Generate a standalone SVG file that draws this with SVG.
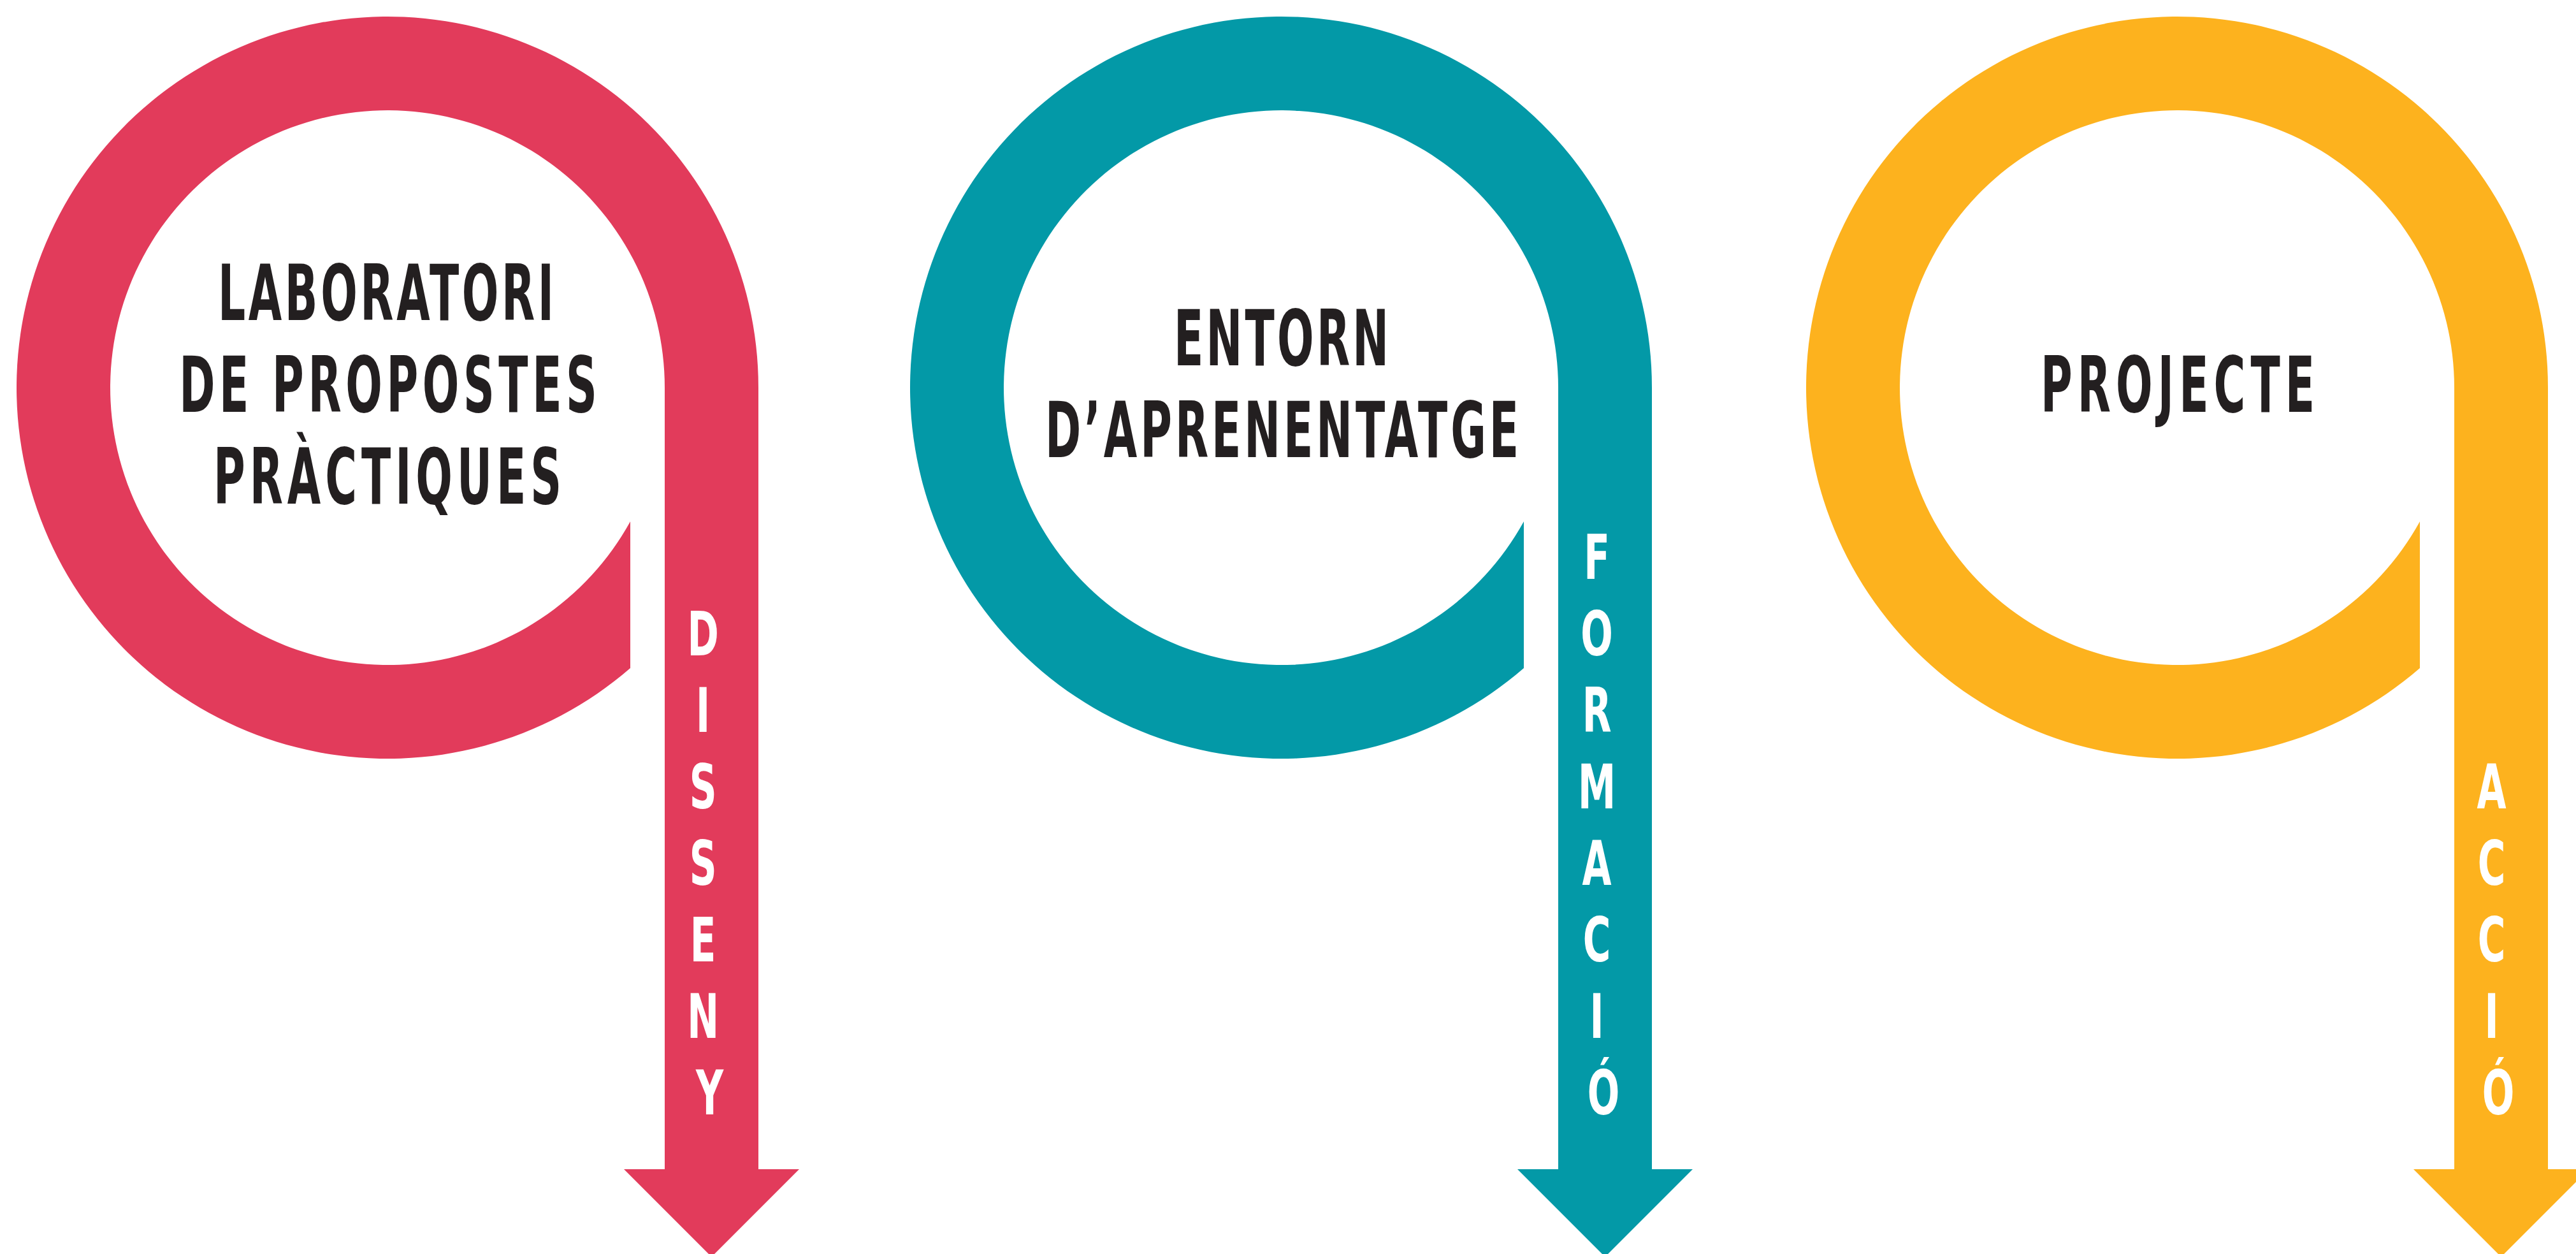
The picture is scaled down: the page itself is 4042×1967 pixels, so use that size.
<svg xmlns="http://www.w3.org/2000/svg" xmlns:xlink="http://www.w3.org/1999/xlink" width="4042" height="1967" viewBox="0 0 4042 1967">
  <style>
    .title { font-family: "DejaVu Sans", "Liberation Sans", sans-serif; font-weight: bold; font-size: 121px; fill: #231F20; }
    .vert { font-family: "DejaVu Sans", "Liberation Sans", sans-serif; font-weight: bold; font-size: 96px; fill: #FFFFFF; }
    .red { fill: #E23B5B; }
    .teal { fill: #0399A7; }
    .yellow { fill: #FDB21E; }
  </style>
  <defs>
    <path id="loop" d="M381,440 A582,582 0 1 1 582,0 L582,1226 L646,1226 L508.5,1363.5 L371,1226 L435,1226 L435,0 A435,435 0 1 0 381,210 Z"/>
  </defs>
  <rect width="4042" height="1967" fill="#FFFFFF"/>

  <g id="node-laboratori">
    <use xlink:href="#loop" class="red" transform="translate(608 608)"/>
    <text class="title" transform="translate(605.5 0) scale(0.56 1)" x="0" y="502" text-anchor="middle" textLength="941" lengthAdjust="spacing">LABORATORI</text>
    <text class="title" transform="translate(609 0) scale(0.56 1)" x="0" y="646" text-anchor="middle" textLength="1171" lengthAdjust="spacing">DE PROPOSTES</text>
    <text class="title" transform="translate(608 0) scale(0.56 1)" x="0" y="790" text-anchor="middle" textLength="975" lengthAdjust="spacing">PRÀCTIQUES</text>
    <text class="vert" transform="translate(1113.5 0) scale(0.62 1)" text-anchor="middle">
      <tspan x="0" y="1028">D</tspan>
      <tspan x="0" y="1148">I</tspan>
      <tspan x="0" y="1268">S</tspan>
      <tspan x="0" y="1388">S</tspan>
      <tspan x="0" y="1508">E</tspan>
      <tspan x="0" y="1628">N</tspan>
      <tspan x="0" y="1748">Y</tspan>
    </text>
  </g>

  <g id="node-entorn">
    <use xlink:href="#loop" class="teal" transform="translate(2010 608)"/>
    <text class="title" transform="translate(2010.5 0) scale(0.56 1)" x="0" y="573" text-anchor="middle" textLength="602" lengthAdjust="spacing">ENTORN</text>
    <text class="title" transform="translate(2011.5 0) scale(0.56 1)" x="0" y="717" text-anchor="middle" textLength="1327" lengthAdjust="spacing">D’APRENENTATGE</text>
    <text class="vert" transform="translate(2516 0) scale(0.62 1)" text-anchor="middle">
      <tspan x="0" y="908">F</tspan>
      <tspan x="0" y="1028">O</tspan>
      <tspan x="0" y="1148">R</tspan>
      <tspan x="0" y="1268">M</tspan>
      <tspan x="0" y="1388">A</tspan>
      <tspan x="0" y="1508">C</tspan>
      <tspan x="0" y="1628">I</tspan>
      <tspan x="0" y="1748">Ó</tspan>
    </text>
  </g>

  <g id="node-projecte">
    <use xlink:href="#loop" class="yellow" transform="translate(3416 608)"/>
    <text class="title" transform="translate(3417 0) scale(0.56 1)" x="0" y="646" text-anchor="middle" textLength="768" lengthAdjust="spacing">PROJECTE</text>
    <text class="vert" transform="translate(3920 0) scale(0.62 1)" text-anchor="middle">
      <tspan x="0" y="1268">A</tspan>
      <tspan x="0" y="1388">C</tspan>
      <tspan x="0" y="1508">C</tspan>
      <tspan x="0" y="1628">I</tspan>
      <tspan x="0" y="1748">Ó</tspan>
    </text>
  </g>
</svg>
